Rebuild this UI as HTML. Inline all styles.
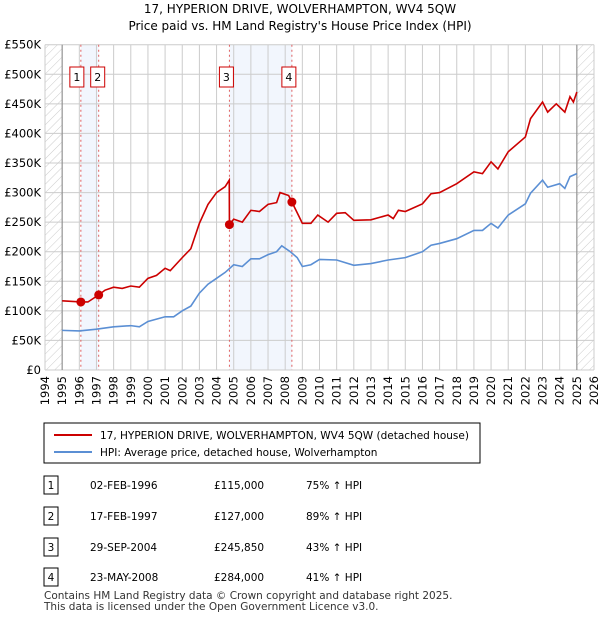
<!DOCTYPE html>
<html><head><meta charset="utf-8"><style>
body{margin:0;background:#fff;font-family:"DejaVu Sans","Liberation Sans",sans-serif;}
svg{display:block;font-family:"DejaVu Sans","Liberation Sans",sans-serif;}
</style></head><body>
<svg id="c" width="600" height="620" xmlns="http://www.w3.org/2000/svg">
<defs><pattern id="hatch" width="6" height="6" patternUnits="userSpaceOnUse" patternTransform="rotate(45)"><line x1="0" y1="0" x2="0" y2="6" stroke="#ccc" stroke-width="1"/></pattern></defs>
<text x="300" y="13" text-anchor="middle" font-size="12" fill="#000">17, HYPERION DRIVE, WOLVERHAMPTON, WV4 5QW</text>
<text x="300" y="30" text-anchor="middle" font-size="12" fill="#000">Price paid vs. HM Land Registry's House Price Index (HPI)</text>
<g id="plot"></g>
<g>
<rect x="44" y="423" width="436" height="40" fill="#fff" stroke="#000"/>
<line x1="54" y1="435" x2="92" y2="435" stroke="#cc0000" stroke-width="2"/>
<text x="100" y="439" font-size="10.5">17, HYPERION DRIVE, WOLVERHAMPTON, WV4 5QW (detached house)</text>
<line x1="54" y1="452" x2="92" y2="452" stroke="#5b8fd4" stroke-width="2"/>
<text x="100" y="456" font-size="10.5">HPI: Average price, detached house, Wolverhampton</text>
</g>
<g id="tbl" font-size="10.5"></g>
<text x="44" y="599" font-size="10.5" fill="#333">Contains HM Land Registry data © Crown copyright and database right 2025.</text>
<text x="44" y="610" font-size="10.5" fill="#333">This data is licensed under the Open Government Licence v3.0.</text>
</svg>
<script>
const hpiYears=[1995,1996,1997,1998,1999,1999.5,2000,2001,2001.5,2002,2002.5,2003,2003.5,2004,2004.5,2005,2005.5,2006,2006.5,2007,2007.5,2007.8,2008.3,2008.7,2009,2009.5,2010,2011,2012,2013,2014,2015,2016,2016.5,2017,2018,2019,2019.5,2020,2020.4,2021,2022,2022.3,2023,2023.3,2024,2024.3,2024.6,2025];
const hpiValues=[67,66,69,73,75,73,82,90,90,100,108,130,145,155,165,178,175,188,188,195,200,210,200,190,175,178,187,186,177,180,186,190,200,211,214,222,236,236,248,240,262,281,299,321,309,315,307,327,332];
const propYears=[1995,1996.09,1996.5,1997.13,1997.5,1998,1998.5,1999,1999.5,2000,2000.5,2001,2001.3,2002,2002.5,2003,2003.5,2004,2004.5,2004.74,2004.75,2005,2005.5,2006,2006.5,2007,2007.5,2007.7,2008.2,2008.39,2008.8,2009,2009.5,2009.9,2010.5,2011,2011.5,2012,2013,2014,2014.3,2014.6,2015,2016,2016.5,2017,2018,2019,2019.5,2020,2020.4,2021,2022,2022.3,2023,2023.3,2023.8,2024.3,2024.6,2024.8,2025];
const propValues=[117,115,115,127,135,140,138,142,140,155,160,172,168,190,205,248,280,300,310,321,245.85,255,250,270,268,280,283,300,295,284,260,248,248,262,250,265,266,253,254,262,256,270,268,281,298,300,315,335,332,352,340,369,394,425,453,436,450,436,462,453,470];
const saleLabels=["1","2","3","4"];
const saleYears=[1996.09,1997.13,2004.75,2008.39];
const saleValues=[115,127,245.85,284];
const saleDates=["02-FEB-1996","17-FEB-1997","29-SEP-2004","23-MAY-2008"];
const salePrices=["£115,000","£127,000","£245,850","£284,000"];
const saleHpi=["75% ↑ HPI","89% ↑ HPI","43% ↑ HPI","41% ↑ HPI"];
const yTicks=[0,50,100,150,200,250,300,350,400,450,500,550];
const yTickLabels=["£0","£50K","£100K","£150K","£200K","£250K","£300K","£350K","£400K","£450K","£500K","£550K"];
const xTicks=[1994,1995,1996,1997,1998,1999,2000,2001,2002,2003,2004,2005,2006,2007,2008,2009,2010,2011,2012,2013,2014,2015,2016,2017,2018,2019,2020,2021,2022,2023,2024,2025,2026];

const L=45,R=594,T=44.7,B=370;
const x=y=>L+(y-1994)/(2026-1994)*(R-L);
const yv=v=>B-v/550*(B-T);
const NS="http://www.w3.org/2000/svg";
const plot=document.getElementById('plot');
function mk(tag,attrs,parent){const e=document.createElementNS(NS,tag);for(const k in attrs)e.setAttribute(k,attrs[k]);(parent||plot).appendChild(e);return e;}
let b1=mk('rect',{x:x(saleYears[0]),y:T,width:x(saleYears[1])-x(saleYears[0]),height:B-T,fill:'#f2f6fd'});


let b2=mk('rect',{x:x(saleYears[2]),y:T,width:x(saleYears[3])-x(saleYears[2]),height:B-T,fill:'#f2f6fd'});


let h1=mk('rect',{x:x(1994),y:T,width:x(1995)-x(1994),height:B-T,fill:'url(#hatch)'});


let h2=mk('rect',{x:x(2025),y:T,width:x(2026)-x(2025),height:B-T,fill:'url(#hatch)'});


yTicks.forEach((v,i)=>{
 let g=mk('line',{x1:L,x2:R,y1:yv(v),y2:yv(v),stroke:'#ccc'});
 
 
 let t=mk('text',{x:L-4,y:yv(v)+4,'text-anchor':'end','font-size':11.5});
 t.textContent=yTickLabels[i];
 
 
});
xTicks.forEach(yr=>{
 let g=mk('line',{x1:x(yr),x2:x(yr),y1:T,y2:B,stroke:'#ccc'});
 
 
 let t=mk('text',{x:0,y:0,'text-anchor':'end','font-size':11.5,transform:`translate(${x(yr)+4},${B+6}) rotate(-90)`});
 t.textContent=yr;
 
 
});
mk('line',{x1:x(1995),x2:x(1995),y1:T,y2:B,stroke:'#888'});
mk('line',{x1:x(2025),x2:x(2025),y1:T,y2:B,stroke:'#888'});
const boxOff=[-11,-8,-10,-10];
saleYears.forEach((s,i)=>{
 let l=mk('line',{x1:x(s),x2:x(s),y1:T,y2:B,stroke:'#e06060','stroke-dasharray':'2,3'});
 
 
 let bx=mk('rect',{x:x(s)+boxOff[i],y:67,width:14,height:20,fill:'#fff',stroke:'#cc0000'});
 
 
 let t=mk('text',{x:x(s)+boxOff[i]+7,y:81,'text-anchor':'middle','font-size':11});
 t.textContent=saleLabels[i];
 
 
});
let hp=mk('polyline',{points:hpiYears.map((y,i)=>x(y)+','+yv(hpiValues[i])).join(' '),fill:'none',stroke:'#5b8fd4','stroke-width':1.6});


let pp=mk('polyline',{points:propYears.map((y,i)=>x(y)+','+yv(propValues[i])).join(' '),fill:'none',stroke:'#cc0000','stroke-width':1.6});


saleYears.forEach((s,i)=>{
 let d=mk('circle',{cx:x(s),cy:yv(saleValues[i]),r:4.5,fill:'#cc0000'});
 
 
});
const tbl=document.getElementById('tbl');
const rowsY=[487,518,549,579];
saleLabels.forEach((lab,i)=>{
 const yy=rowsY[i];
 let bx=mk('rect',{x:44,y:yy-11,width:14,height:18,fill:'#fff',stroke:'#000'},tbl);
 
 
 let vals=[[51,lab,'middle'],[90,saleDates[i],'start'],[214,salePrices[i],'start'],[306,saleHpi[i],'start']];
 vals.forEach(v=>{let t=mk('text',{x:v[0],y:yy+2,'text-anchor':v[2],'font-size':10.5},tbl);t.textContent=v[1];
 
 });
});
</script>
</body></html>
